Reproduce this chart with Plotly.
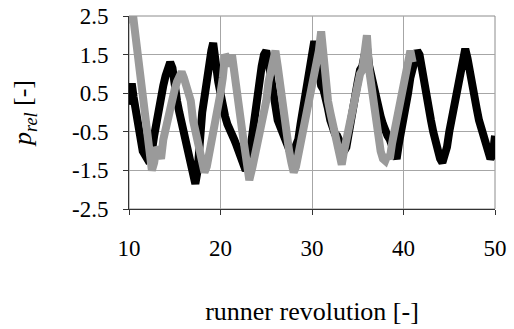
import plotly.graph_objects as go

# ---- data ----
black_x = [10.0, 10.1, 10.3, 10.5, 10.75, 11.0, 11.25, 11.5, 11.75, 12.0, 12.25, 12.5, 12.75, 13.0, 13.25, 13.5,
           13.75, 14.0, 14.25, 14.5, 14.75, 15.0, 15.25, 15.5, 15.75, 16.0, 16.25, 16.5, 16.75, 17.0, 17.25, 17.5,
           17.75, 18.0, 18.25, 18.5, 18.75, 19.0, 19.2, 19.5, 19.75, 20.0, 20.25, 20.5, 20.75, 21.0, 21.25, 21.5,
           21.75, 22.0, 22.25, 22.5, 22.75, 23.0, 23.25, 23.5, 23.75, 24.0, 24.25, 24.5, 24.75, 25.0, 25.25, 25.5,
           25.75, 26.0, 26.25, 26.5, 26.75, 27.0, 27.25, 27.5, 27.75, 28.0, 28.25, 28.5, 28.75, 29.0, 29.25, 29.5,
           29.75, 30.0, 30.25, 30.5, 30.75, 31.0, 31.25, 31.5, 31.75, 32.0, 32.25, 32.5, 32.75, 33.0, 33.25, 33.5,
           33.75, 34.0, 34.25, 34.5, 34.75, 35.0, 35.25, 35.5, 35.75, 36.0, 36.25, 36.5, 36.75, 37.0, 37.25, 37.5,
           37.75, 38.0, 38.25, 38.5, 38.75, 39.0, 39.25, 39.5, 39.75, 40.0, 40.25, 40.5, 40.75, 41.0, 41.25, 41.5,
           41.75, 42.0, 42.25, 42.5, 42.75, 43.0, 43.25, 43.5, 43.75, 44.0, 44.25, 44.5, 44.75, 45.0, 45.25, 45.5,
           45.75, 46.0, 46.25, 46.5, 46.75, 47.0, 47.25, 47.5, 47.75, 48.0, 48.25, 48.5, 48.75, 49.0, 49.25, 49.5,
           49.75, 50.0]
black_y = [0.2, 0.7, 0.75, 0.4, 0.0, -0.4, -0.6, -1.0, -1.1, -1.2, -1.15, -1.0, -0.6, -0.2, 0.2, 0.4,
           0.7, 0.95, 1.1, 1.3, 1.15, 0.6, 0.3, 0.0, -0.3, -0.5, -0.8, -1.0, -1.3, -1.6, -1.85, -1.5,
           -0.6, 0.0, 0.4, 0.9, 1.2, 1.6, 1.8, 1.1, 0.8, 0.5, 0.1, -0.1, -0.3, -0.4, -0.55, -0.7,
           -0.85, -1.0, -1.1, -1.3, -1.5, -1.4, -0.9, -0.6, -0.1, 0.3, 0.8, 1.2, 1.5, 1.6, 1.3, 0.9,
           0.4, 0.1, -0.2, -0.35, -0.5, -0.6, -0.8, -0.9, -1.1, -1.0, -0.9, -0.7, -0.3, 0.1, 0.4, 0.8,
           1.1, 1.5, 1.85, 1.4, 0.9, 0.7, 0.6, 0.4, 0.1, -0.2, -0.4, -0.55, -0.6, -0.75, -0.85, -1.0,
           -0.9, -0.5, -0.2, 0.1, 0.5, 0.8, 1.1, 1.2, 1.5, 1.7, 1.2, 0.9, 0.6, 0.3, 0.1, -0.1,
           -0.3, -0.5, -0.6, -0.7, -0.9, -1.1, -1.2, -0.8, -0.5, -0.3, 0.1, 0.5, 0.9, 1.2, 1.5, 1.6,
           1.5, 1.1, 0.7, 0.4, 0.1, -0.2, -0.5, -0.8, -1.0, -1.2, -1.3, -1.1, -0.9, -0.5, -0.2, 0.1,
           0.4, 0.8, 1.0, 1.3, 1.65, 1.4, 1.0, 0.7, 0.4, 0.1, -0.2, -0.4, -0.6, -0.8, -0.95, -1.2,
           -1.1, -0.6]

gray_x = [10.1, 10.2, 10.4, 10.6, 10.8, 11.0, 11.25, 11.5, 11.75, 12.0, 12.25, 12.5, 12.75, 13.0, 13.25, 13.5,
          13.75, 14.0, 14.25, 14.5, 14.75, 15.0, 15.25, 15.5, 15.75, 16.0, 16.25, 16.5, 16.75, 17.0, 17.25, 17.5,
          17.75, 18.0, 18.25, 18.5, 18.75, 19.0, 19.25, 19.5, 19.75, 20.0, 20.25, 20.5, 20.75, 21.0, 21.25, 21.5,
          21.75, 22.0, 22.25, 22.5, 22.75, 23.0, 23.15, 23.5, 23.75, 24.0, 24.25, 24.5, 24.75, 25.0, 25.25, 25.5,
          25.75, 26.0, 26.25, 26.5, 26.75, 27.0, 27.25, 27.5, 27.75, 28.0, 28.25, 28.5, 28.75, 29.0, 29.25, 29.5,
          29.75, 30.0, 30.25, 30.5, 30.75, 31.0, 31.25, 31.5, 31.75, 32.0, 32.25, 32.5, 32.75, 33.0, 33.25, 33.5,
          33.75, 34.0, 34.25, 34.5, 34.75, 35.0, 35.25, 35.5, 35.75, 36.0, 36.25, 36.5, 36.75, 37.0, 37.25, 37.5,
          37.75, 38.0, 38.25, 38.5, 38.75, 39.0, 39.25, 39.5, 39.75, 40.0, 40.25, 40.5, 40.75, 41.0]
gray_y = [2.3, 2.6, 2.6, 2.2, 1.8, 1.6, 1.3, 0.8, 0.3, -0.3, -0.9, -1.5, -1.3, -0.9, -1.0, -1.2,
          -0.7, -0.4, -0.1, 0.2, 0.5, 0.6, 0.8, 0.9, 1.05, 0.9, 0.7, 0.5, 0.3, -0.2, -0.5, -0.9,
          -1.2, -1.4, -1.55, -1.4, -1.1, -0.8, -0.6, -0.2, 0.2, 0.5, 0.9, 1.5, 1.4, 1.2, 1.5, 1.0,
          0.4, 0.0, -0.4, -0.7, -1.1, -1.5, -1.75, -1.4, -1.1, -0.9, -0.7, -0.4, -0.1, 0.3, 0.8, 1.1,
          1.3, 1.6, 1.2, 0.7, 0.2, -0.3, -0.7, -1.0, -1.3, -1.55, -1.4, -1.1, -0.9, -0.7, -0.3, 0.0,
          0.3, 0.6, 0.9, 1.2, 1.6, 2.1, 1.3, 0.8, 0.3, 0.0, -0.3, -0.6, -0.8, -1.0, -1.35, -1.0,
          -0.7, -0.5, -0.2, 0.2, 0.6, 0.9, 1.0, 1.1, 1.5, 2.0, 1.1, 0.6, 0.1, -0.4, -0.7, -1.0,
          -1.2, -1.25, -1.1, -1.2, -0.8, -0.5, -0.2, 0.1, 0.5, 0.8, 1.2, 1.55, 1.6, 1.3]

y_ticks = [-2.5, -1.5, -0.5, 0.5, 1.5, 2.5]
y_tick_labels = ["-2.5", "-1.5", "-0.5", "0.5", "1.5", "2.5"]
x_ticks = [10, 20, 30, 40, 50]
x_tick_labels = ["10", "20", "30", "40", "50"]

FONT = "Liberation Serif, Times New Roman, serif"

fig = go.Figure()
fig.add_trace(go.Scatter(x=black_x, y=black_y, mode="lines",
                         line=dict(color="#000000", width=8), showlegend=False))
fig.add_trace(go.Scatter(x=gray_x, y=gray_y, mode="lines",
                         line=dict(color="#9a9a9a", width=8), showlegend=False))

fig.update_layout(
    width=514, height=329,
    margin=dict(l=129, r=19, t=16, b=120, autoexpand=False),
    paper_bgcolor="white", plot_bgcolor="white",
    font=dict(family=FONT, color="black", size=23),
    hovermode=False,
    shapes=[dict(type="rect", xref="paper", yref="paper", x0=0, y0=0, x1=1, y1=1,
                 line=dict(color="#8c8c8c", width=1), layer="below")],
)
fig.update_xaxes(
    range=[10, 50], tickvals=x_ticks, ticktext=x_tick_labels, automargin=False,
    showgrid=True, gridcolor="#a6a6a6", gridwidth=1,
    showline=True, linecolor="#333333", linewidth=1,
    ticks="outside", ticklen=5, tickcolor="#333333",
    tickfont=dict(family=FONT, size=23), ticklabelstandoff=13,
    zeroline=False,
    title=dict(text="runner revolution [-]", font=dict(family=FONT, size=26), standoff=42),
)
fig.update_yaxes(
    range=[-2.5, 2.5], tickvals=y_ticks, ticktext=y_tick_labels, automargin=False,
    showgrid=True, gridcolor="#a6a6a6", gridwidth=1,
    showline=True, linecolor="#333333", linewidth=1,
    ticks="outside", ticklen=5, tickcolor="#333333",
    tickfont=dict(family=FONT, size=23), ticklabelstandoff=10,
    zeroline=False,
    title=dict(text="<i>p</i><sub><i>rel</i></sub> [-]", font=dict(family=FONT, size=26), standoff=32),
)

fig.write_html("out.html", config={"displayModeBar": False, "staticPlot": True},
               post_script="document.body.style.margin='0';")
